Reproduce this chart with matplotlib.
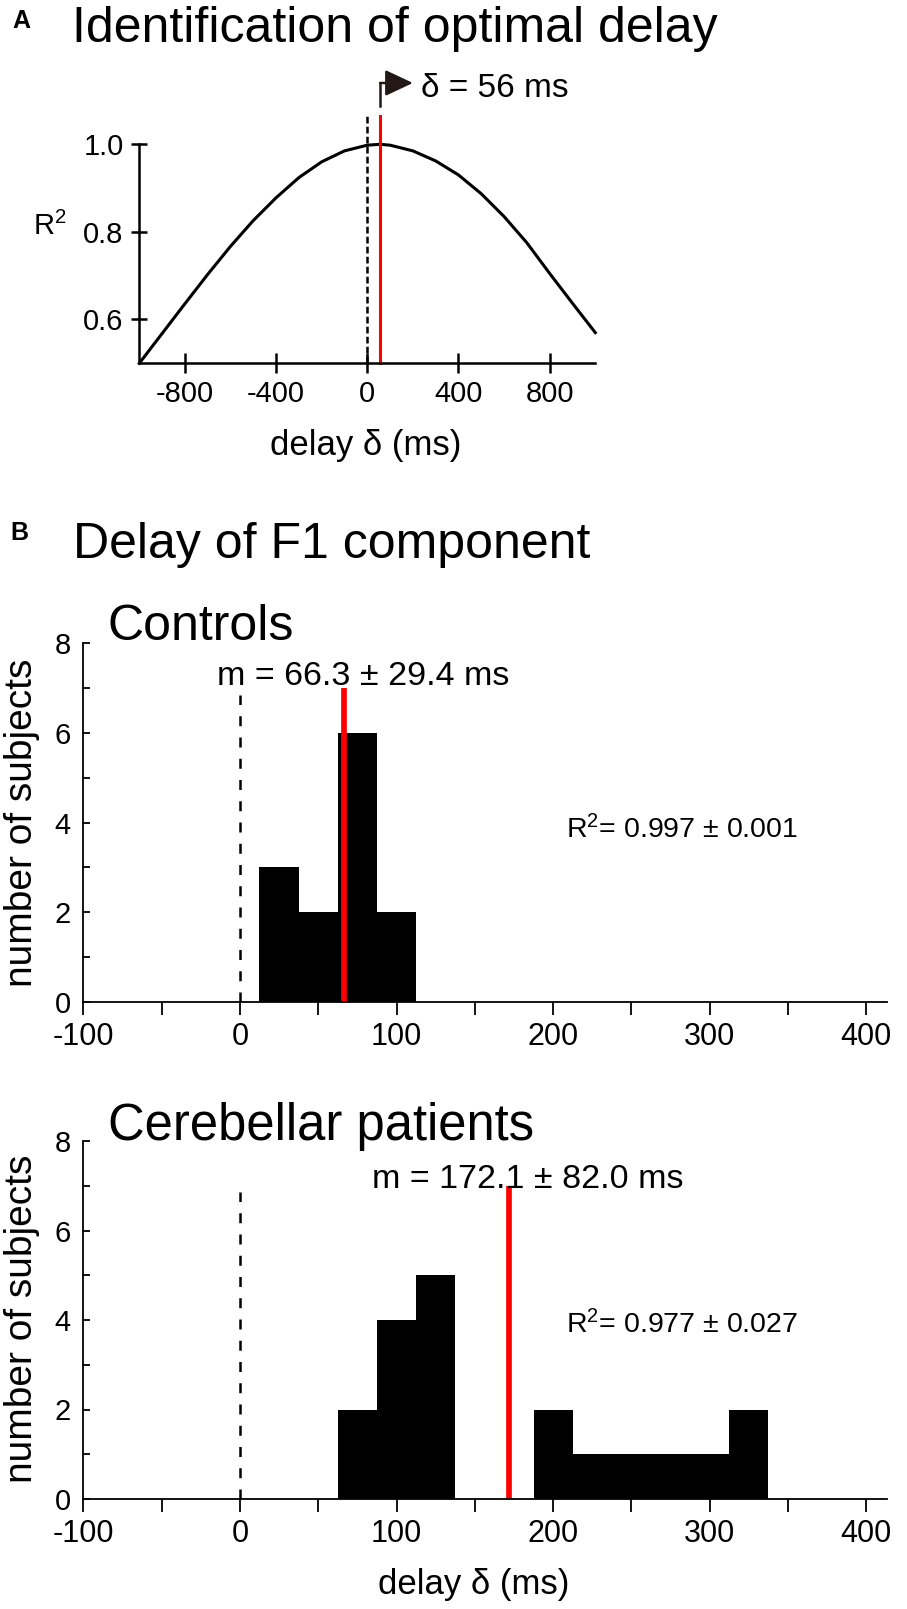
import matplotlib
matplotlib.use("Agg")
import matplotlib.pyplot as plt

plt.rcParams['font.family'] = ['Liberation Sans', 'DejaVu Sans']
plt.rcParams['mathtext.fontset'] = 'custom'
plt.rcParams['mathtext.rm'] = 'Liberation Sans'
plt.rcParams['mathtext.it'] = 'Liberation Sans:italic'
plt.rcParams['axes.unicode_minus'] = False

# --- data ---
# panel A: R^2 as a function of the delay
delay_curve = [-1000, -900, -800, -700, -600, -500, -400, -300, -200, -100, 0, 56,
               100, 200, 300, 400, 500, 600, 700, 800, 900, 1000]
r2_curve = [0.500, 0.568, 0.636, 0.703, 0.767, 0.826, 0.878, 0.924, 0.960, 0.985, 0.998, 1.000,
            0.998, 0.985, 0.962, 0.930, 0.887, 0.835, 0.775, 0.705, 0.637, 0.570]
optimal_delay = 56

# panel B: histograms of the optimal delay (bins of 25 ms)
bin_width = 25
controls_centers = [25, 50, 75, 100]
controls_counts = [3, 2, 6, 2]
patients_centers = [75, 100, 125, 150, 175, 200, 225, 250, 275, 300, 325]
patients_counts = [2, 4, 5, 0, 0, 2, 1, 1, 1, 1, 2]

controls_mean, controls_sd = 66.3, 29.4
patients_mean, patients_sd = 172.1, 82.0
controls_r2, controls_r2_sd = 0.997, 0.001
patients_r2, patients_r2_sd = 0.977, 0.027

W, H = 907, 1609
fig = plt.figure(figsize=(W / 100, H / 100), dpi=100)
RED = '#ff0000'


def px_axes(left, top, right, bottom):
    return fig.add_axes([left / W, 1 - bottom / H, (right - left) / W, (bottom - top) / H])


def ftext(x, y, s, **kw):
    fig.text(x / W, 1 - y / H, s, **kw)


# ---------------- panel A ----------------
axA = px_axes(139.3, 144.3, 595.3, 363.3)
axA.plot(delay_curve, r2_curve, color='k', lw=2.2, clip_on=False)
axA.plot([0, 0], [0.5, 1.071], color='k', lw=1.8, ls=(0, (2.7, 1.3)), clip_on=False)
axA.plot([optimal_delay, optimal_delay], [0.5, 1.064], color=RED, lw=2.2, clip_on=False)
axA.set_xlim(-1000, 1000)
axA.set_ylim(0.5, 1.0)
for s in ['top', 'right']:
    axA.spines[s].set_visible(False)
for s in ['left', 'bottom']:
    axA.spines[s].set_linewidth(1.8)
axA.set_xticks([-800, -400, 0, 400, 800])
axA.set_yticks([0.6, 0.8, 1.0])
axA.set_yticklabels(['0.6', '0.8', '1.0'])
axA.tick_params(axis='x', direction='inout', length=13.7, width=1.8, pad=5.5, labelsize=21)
axA.tick_params(axis='y', direction='inout', length=11.5, width=1.8, pad=5.5, labelsize=21)

# arrow pointing to the optimal delay
axA.plot([optimal_delay, optimal_delay], [1.0865, 1.140], color='#231815', lw=1.8,
         solid_capstyle='projecting', clip_on=False)
axA.annotate('', xy=(200, 1.140), xytext=(optimal_delay, 1.140),
             arrowprops=dict(arrowstyle='-|>,head_length=0.85,head_width=0.4',
                             mutation_scale=20, color='#231815', lw=1.8,
                             shrinkA=0, shrinkB=0),
             annotation_clip=False)
axA.text(234, 1.109, '\u03b4 = %d ms' % optimal_delay, fontsize=24, va='baseline', ha='left')

ftext(21, 21, 'A', fontsize=18, fontweight='bold', ha='center', va='center')
ftext(72, 41.7, 'Identification of optimal delay', fontsize=36, ha='left', va='baseline')
ftext(50, 226, 'R$^{2}$', fontsize=21, ha='center', va='center')
ftext(366, 455, 'delay \u03b4 (ms)', fontsize=25, ha='center', va='baseline')

# ---------------- panel B ----------------
ftext(19, 533, 'B', fontsize=18, fontweight='bold', ha='center', va='center')
ftext(73, 558, 'Delay of F1 component', fontsize=36, ha='left', va='baseline')


def hist_panel(ax, centers, counts, mean, sd, r2, r2_sd, dash_top, m_x, m_y, r2_y):
    ax.bar(centers, counts, width=bin_width, color='k', align='center')
    ax.plot([0, 0], [0, dash_top], color='k', lw=1.8, ls=(0, (4.0, 4.5)))
    ax.plot([mean, mean], [0, 7], color=RED, lw=4.1, solid_capstyle='butt')
    ax.text(m_x, m_y, 'm = %.1f \u00b1 %.1f ms' % (mean, sd), fontsize=24.5,
            ha='center', va='baseline')
    ax.text(208, r2_y, 'R$^{2}$= %.3f \u00b1 %.3f' % (r2, r2_sd), fontsize=20.5,
            ha='left', va='baseline')
    ax.set_xlim(-100, 413)
    ax.set_ylim(0, 8)
    for s in ['top', 'right']:
        ax.spines[s].set_visible(False)
    for s in ['left', 'bottom']:
        ax.spines[s].set_linewidth(1.3)
    ax.set_xticks(range(-100, 401, 50))
    ax.set_xticklabels([str(v) if v % 100 == 0 else '' for v in range(-100, 401, 50)])
    ax.set_yticks([0, 2, 4, 6, 8])
    ax.set_yticks([1, 3, 5, 7], minor=True)
    ax.tick_params(axis='x', direction='out', length=9.4, width=1.3, pad=5, labelsize=22)
    ax.tick_params(axis='y', which='both', direction='in', length=5, width=1.3, pad=9,
                   labelsize=21)


axC = px_axes(83.3, 643.3, 886.7, 1001.7)
hist_panel(axC, controls_centers, controls_counts, controls_mean, controls_sd,
           controls_r2, controls_r2_sd, 6.85, 78.5, 7.07, 3.65)
ftext(108, 640, 'Controls', fontsize=36, ha='left', va='baseline')
ftext(22, 822.7, 'number of subjects', fontsize=28, rotation=90, ha='center', va='center')

axP = px_axes(83.3, 1141, 886.7, 1499)
hist_panel(axP, patients_centers, patients_counts, patients_mean, patients_sd,
           patients_r2, patients_r2_sd, 6.87, 183.5, 6.95, 3.71)
ftext(108, 1140, 'Cerebellar patients', fontsize=36.5, ha='left', va='baseline')
ftext(22, 1319, 'number of subjects', fontsize=28, rotation=90, ha='center', va='center')
ftext(473.5, 1594, 'delay \u03b4 (ms)', fontsize=25, ha='center', va='baseline')

fig.savefig('out.png', dpi=100)
